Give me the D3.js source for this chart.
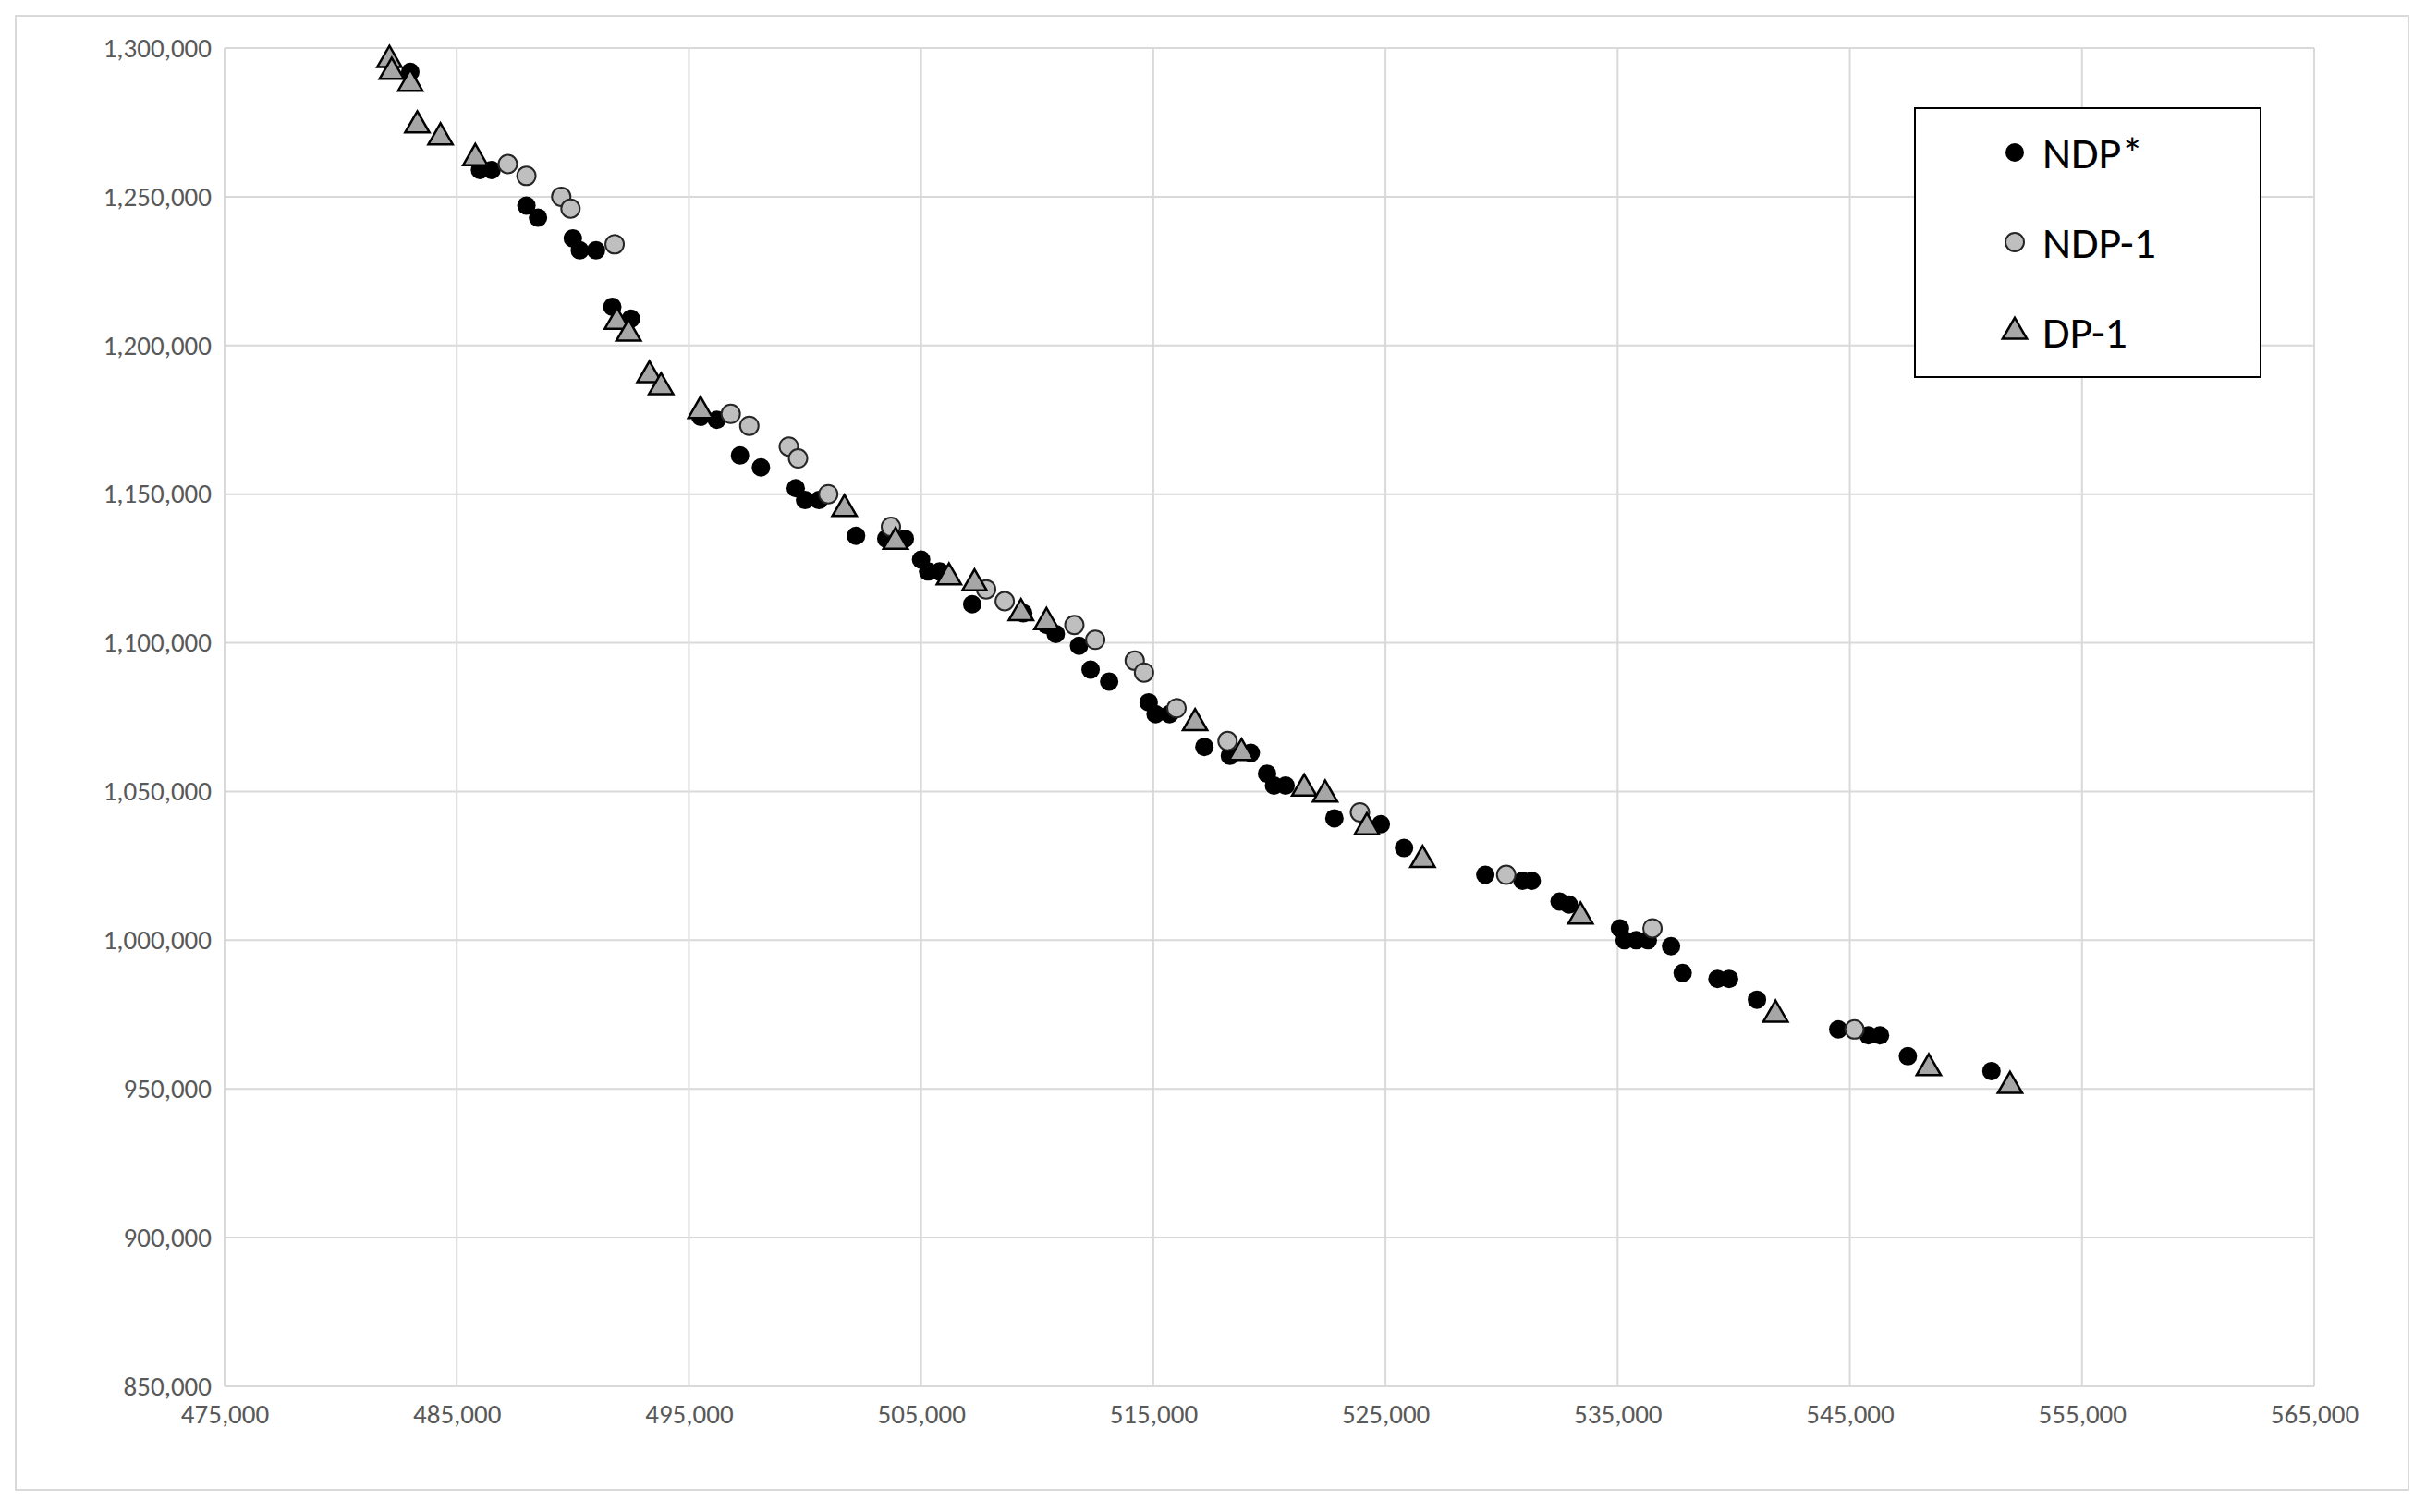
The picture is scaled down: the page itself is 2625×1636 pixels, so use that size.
<!DOCTYPE html>
<html><head><meta charset="utf-8">
<script src="https://cdn.jsdelivr.net/npm/d3@7"></script>
<style>body{margin:0;background:#fff;font-family:Calibri,Carlito,"Liberation Sans",Arial,sans-serif;}</style>
</head><body>
<svg id="chart" width="2625" height="1636"></svg>
<script>
// series values [x, y]
var ndpStar = [[483000,1292000],[486000,1259000],[486500,1259000],[488000,1247000],[488500,1243000],[490000,1236000],[490300,1232000],[491000,1232000],[491700,1213000],[492500,1209000],[495500,1176000],[496200,1175000],[497200,1163000],[498100,1159000],[499600,1152000],[500000,1148000],[500600,1148000],[502200,1136000],[503500,1135000],[504300,1135000],[505000,1128000],[505300,1124000],[505800,1124000],[507200,1113000],[509400,1110000],[510400,1106000],[510800,1103000],[511800,1099000],[512300,1091000],[513100,1087000],[514800,1080000],[515100,1076000],[515700,1076000],[517200,1065000],[518300,1062000],[519200,1063000],[519900,1056000],[520200,1052000],[520700,1052000],[522800,1041000],[524800,1039000],[525800,1031000],[529300,1022000],[530900,1020000],[531300,1020000],[532500,1013000],[532900,1012000],[535100,1004000],[535300,1000000],[535800,1000000],[536300,1000000],[537300,998000],[537800,989000],[539300,987000],[539800,987000],[541000,980000],[544500,970000],[545800,968000],[546300,968000],[547500,961000],[551100,956000]];
var ndp1 = [[487200,1261000],[488000,1257000],[489500,1250000],[489900,1246000],[491800,1234000],[496800,1177000],[497600,1173000],[499300,1166000],[499700,1162000],[501000,1150000],[503700,1139000],[507800,1118000],[508600,1114000],[511600,1106000],[512500,1101000],[514200,1094000],[514600,1090000],[516000,1078000],[518200,1067000],[523900,1043000],[530200,1022000],[536500,1004000],[545200,970000]];
var dp1 = [[482100,1296000],[482200,1292000],[483000,1288000],[483300,1274000],[484300,1270000],[485800,1263000],[491900,1208000],[492400,1204000],[493300,1190000],[493800,1186000],[495500,1178000],[501700,1145000],[503900,1134000],[506200,1122000],[507300,1120000],[509300,1110000],[510400,1107000],[516800,1073000],[518800,1063000],[521500,1051000],[522400,1049000],[524200,1038000],[526600,1027000],[533400,1008000],[541800,975000],[548400,957000],[551900,951000]];
var xTicks = d3.range(475000, 565001, 10000);
var yTicks = d3.range(850000, 1300001, 50000);
var legendLabels = ['NDP*', 'NDP-1', 'DP-1'];

var svg = d3.select('#chart');
var plotLeft = 243, plotRight = 2504, plotTop = 52, plotBottom = 1500;
var fmt = d3.format(',');

// outer border
svg.append('rect').attr('x', 17).attr('y', 17).attr('width', 2589).attr('height', 1595)
	.attr('fill', 'none').attr('stroke', '#d9d9d9').attr('stroke-width', 2);

var x = d3.scaleLinear().domain([475000, 565000]).range([plotLeft, plotRight]);
var y = d3.scaleLinear().domain([850000, 1300000]).range([plotBottom, plotTop]);

// gridlines
svg.append('g').selectAll('line').data(xTicks).join('line')
	.attr('x1', d => x(d)).attr('x2', d => x(d)).attr('y1', plotTop).attr('y2', plotBottom)
	.attr('stroke', '#d9d9d9').attr('stroke-width', 2);
svg.append('g').selectAll('line').data(yTicks).join('line')
	.attr('x1', plotLeft).attr('x2', plotRight).attr('y1', d => y(d)).attr('y2', d => y(d))
	.attr('stroke', '#d9d9d9').attr('stroke-width', 2);

// axes
var xAxis = svg.append('g').attr('transform', 'translate(0,' + plotBottom + ')')
	.call(d3.axisBottom(x).tickValues(xTicks).tickFormat(fmt).tickSize(0).tickPadding(14));
var yAxis = svg.append('g').attr('transform', 'translate(' + plotLeft + ',0)')
	.call(d3.axisLeft(y).tickValues(yTicks).tickFormat(fmt).tickSize(0).tickPadding(14));
[xAxis, yAxis].forEach(function(a) {
	a.select('.domain').remove();
	a.selectAll('text').attr('font-size', 29).attr('fill', '#595959')
		.attr('font-family', 'Calibri,Carlito,"Liberation Sans",Arial,sans-serif');
});
xAxis.selectAll('text').attr('dy', '0.9em');

var tri = d3.symbol().type(d3.symbolTriangle).size(300);

// markers
svg.append('g').selectAll('circle').data(ndpStar).join('circle')
	.attr('cx', d => x(d[0])).attr('cy', d => y(d[1])).attr('r', 10).attr('fill', '#000');
svg.append('g').selectAll('circle').data(ndp1).join('circle')
	.attr('cx', d => x(d[0])).attr('cy', d => y(d[1])).attr('r', 10)
	.attr('fill', '#bfbfbf').attr('stroke', '#262626').attr('stroke-width', 2);
svg.append('g').selectAll('path').data(dp1).join('path')
	.attr('d', tri).attr('transform', d => 'translate(' + x(d[0]) + ',' + y(d[1]) + ')')
	.attr('fill', '#a6a6a6').attr('stroke', '#000').attr('stroke-width', 2.5);

// legend
var lg = svg.append('g').attr('transform', 'translate(2072,117)');
lg.append('rect').attr('width', 374).attr('height', 291).attr('fill', '#fff').attr('stroke', '#000').attr('stroke-width', 2);
legendLabels.forEach(function(lab, i) {
	var cy = 48 + i * 97;
	if (i == 0) lg.append('circle').attr('cx', 108).attr('cy', cy).attr('r', 10).attr('fill', '#000');
	else if (i == 1) lg.append('circle').attr('cx', 108).attr('cy', cy).attr('r', 10).attr('fill', '#bfbfbf').attr('stroke', '#262626').attr('stroke-width', 2);
	else lg.append('path').attr('d', tri).attr('transform', 'translate(108,' + cy + ')').attr('fill', '#a6a6a6').attr('stroke', '#000').attr('stroke-width', 2.5);
	lg.append('text').attr('x', 138).attr('y', cy).attr('dy', '0.35em').attr('font-size', 48).attr('fill', '#000').text(lab);
});
</script>
</body></html>
